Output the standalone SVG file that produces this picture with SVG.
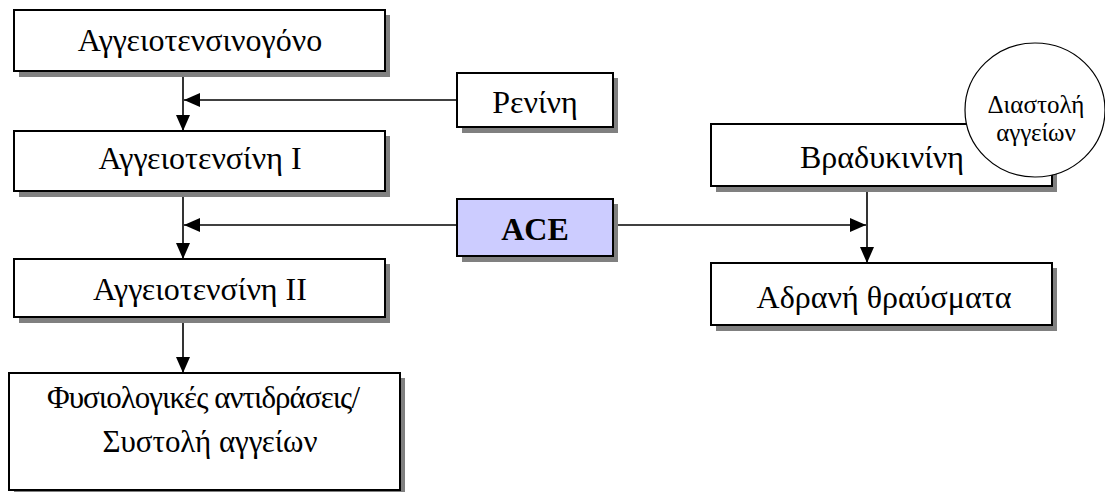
<svg xmlns="http://www.w3.org/2000/svg" width="1105" height="492" viewBox="0 0 1105 492">
<style>
.box{fill:#fff;stroke:#000;stroke-width:2}
.sh{fill:#808080}
.t{font-family:"Liberation Serif","DejaVu Serif",serif;font-size:32px;fill:#000;text-anchor:middle}
.m{font-size:31px}
.s{font-size:25px}
.c{stroke:#000;stroke-width:1.6;fill:none}
</style>
<defs>
<marker id="ah" viewBox="0 0 16 14" refX="16" refY="7" markerWidth="16" markerHeight="14" markerUnits="userSpaceOnUse" orient="auto">
<path d="M0,0 L16,7 L0,14 Z" fill="#000"/>
</marker>
</defs>
<rect width="1105" height="492" fill="#fff"/>
<g id="connectors">
<line class="c" x1="183" y1="71" x2="183" y2="131" marker-end="url(#ah)"/>
<line class="c" x1="457" y1="100" x2="184" y2="100" marker-end="url(#ah)"/>
<line class="c" x1="183" y1="191" x2="183" y2="259" marker-end="url(#ah)"/>
<line class="c" x1="457" y1="225" x2="184" y2="225" marker-end="url(#ah)"/>
<line class="c" x1="183" y1="317" x2="183" y2="373" marker-end="url(#ah)"/>
<line class="c" x1="613" y1="225" x2="866" y2="225" marker-end="url(#ah)"/>
<line class="c" x1="867" y1="187" x2="867" y2="263" marker-end="url(#ah)"/>
</g>
<g id="angiotensinogen">
<rect class="sh" x="19" y="15" width="371" height="62"/>
<rect class="box" x="14" y="10" width="371" height="61"/>
<text class="t" x="200" y="51">Αγγειοτενσινογόνο</text>
</g>
<g id="renin">
<rect class="sh" x="462" y="78" width="156" height="55"/>
<rect class="box" x="457" y="73" width="156" height="54"/>
<text class="t" x="535" y="113">Ρενίνη</text>
</g>
<g id="angiotensin1">
<rect class="sh" x="19" y="136" width="371" height="61"/>
<rect class="box" x="14" y="131" width="371" height="60"/>
<text class="t" x="200" y="169">Αγγειοτενσίνη Ι</text>
</g>
<g id="ace">
<rect class="sh" x="462" y="204" width="156" height="58"/>
<rect class="box" x="457" y="199" width="156" height="57" style="fill:#ccccff"/>
<text class="t" x="535" y="240" font-weight="bold">ACE</text>
</g>
<g id="angiotensin2">
<rect class="sh" x="19" y="264" width="371" height="59"/>
<rect class="box" x="14" y="259" width="371" height="58"/>
<text class="t" x="200" y="300">Αγγειοτενσίνη ΙΙ</text>
</g>
<g id="physiological">
<rect class="sh" x="14" y="378" width="391" height="118"/>
<rect class="box" x="9" y="373" width="391" height="117"/>
<text class="t m" x="203.5" y="408" textLength="313" lengthAdjust="spacing">Φυσιολογικές αντιδράσεις/</text>
<text class="t m" x="210" y="452" textLength="215" lengthAdjust="spacing">Συστολή αγγείων</text>
</g>
<g id="bradykinin">
<rect class="sh" x="716" y="129" width="341" height="63"/>
<rect class="box" x="711" y="124" width="341" height="62"/>
<text class="t" x="882" y="168">Βραδυκινίνη</text>
</g>
<g id="fragments">
<rect class="sh" x="716" y="268" width="341" height="63"/>
<rect class="box" x="711" y="263" width="341" height="62"/>
<text class="t" x="884" y="308">Αδρανή θραύσματα</text>
</g>
<g id="vasodilation">
<ellipse cx="1035" cy="110" rx="70" ry="67" fill="#fff" stroke="#000" stroke-width="1.2"/>
<text class="t s" x="1036" y="113">Διαστολή</text>
<text class="t s" x="1036" y="141">αγγείων</text>
</g>
</svg>
